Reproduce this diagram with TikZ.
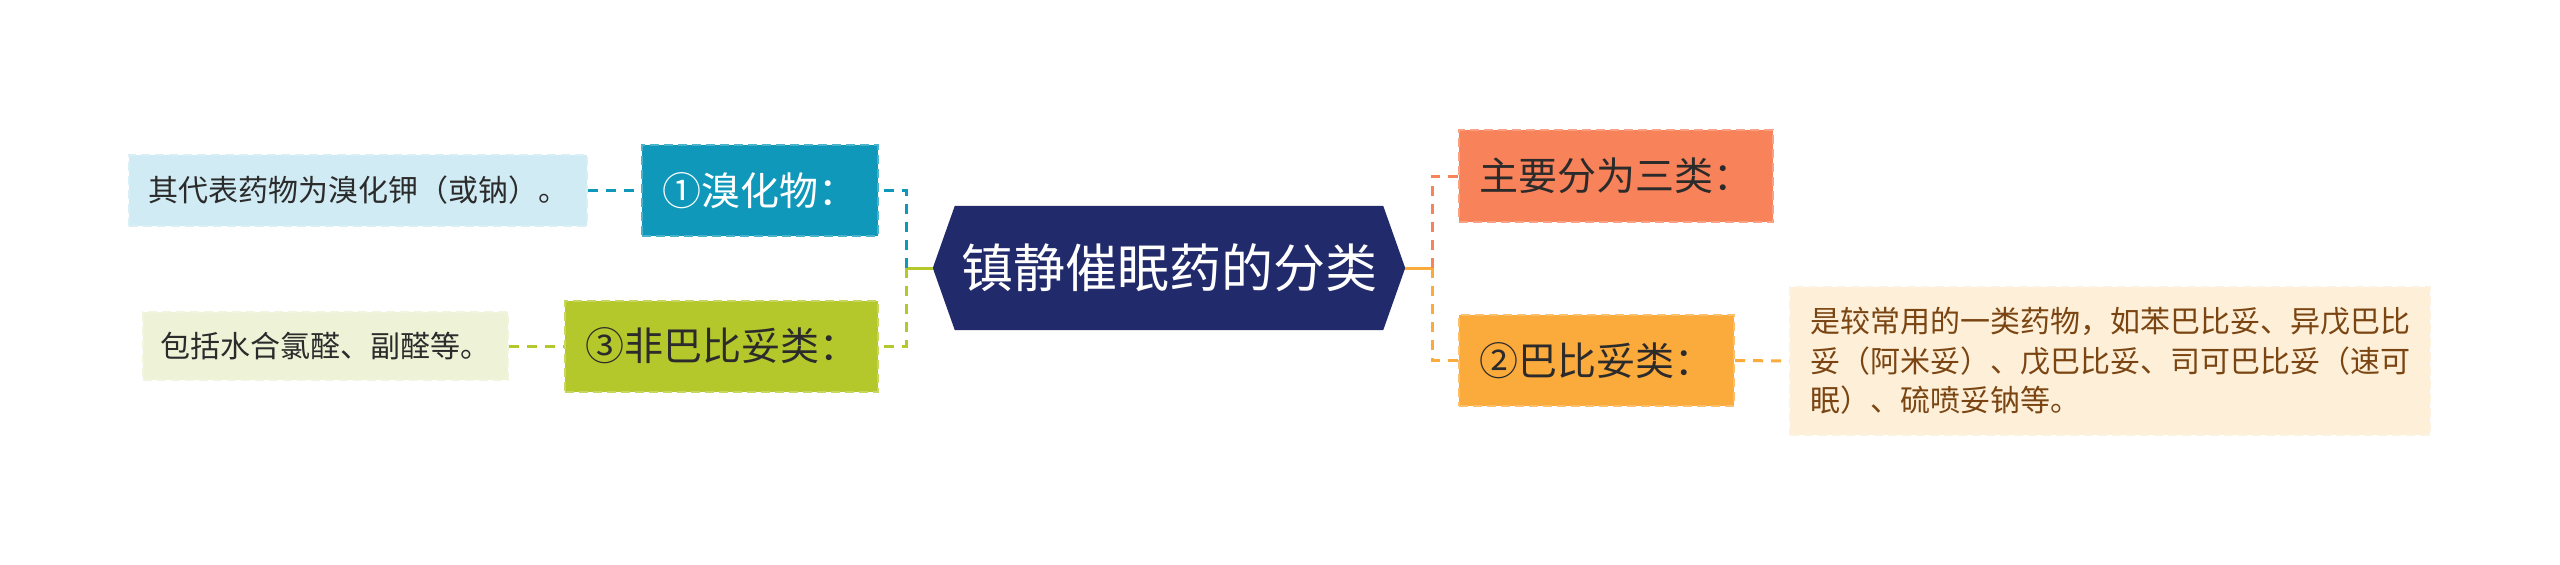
\documentclass[tikz,border=0pt]{standalone}
\usepackage{fontspec}
\setmainfont{Noto Sans CJK SC}
\usetikzlibrary{backgrounds}
\definecolor{navy}{HTML}{212A6A}
\definecolor{tealc}{HTML}{0F98B9}
\definecolor{tealleaf}{HTML}{D0EBF4}
\definecolor{greenc}{HTML}{B5C82B}
\definecolor{greenleaf}{HTML}{EEF3D7}
\definecolor{coralc}{HTML}{F8825A}
\definecolor{yellowc}{HTML}{FBAA3C}
\definecolor{creamleaf}{HTML}{FDEFD8}
\definecolor{brownt}{HTML}{7A4512}
\definecolor{darkt}{HTML}{2B2B2B}
\tikzset{
  boxnode/.style={rectangle, inner xsep=0pt, inner ysep=0pt, align=center,
    font=\fontsize{39pt}{47pt}\selectfont, line width=2pt, dash pattern=on 9pt off 5pt},
  leafnode/.style={rectangle, inner xsep=0pt, inner ysep=0pt, align=left,
    font=\fontsize{30pt}{39.5pt}\selectfont, line width=2pt, dash pattern=on 9pt off 5pt},
  conn/.style={line width=3pt, dash pattern=on 10pt off 8pt},
  stub/.style={line width=3pt}
}
\begin{document}
\begin{tikzpicture}[x=1pt,y=-1pt]
\useasboundingbox (0,0) rectangle (2560,565);
% central title
\node[rectangle, minimum width=472pt, minimum height=124pt, inner sep=0pt,
  text=white, font=\fontsize{52pt}{60pt}\selectfont] (title) at (1169,268) {镇静催眠药的分类};
\begin{scope}[on background layer]
\fill[white] (0,0) rectangle (2560,565);
\fill[navy] (title.west) -- ([xshift=22pt]title.north west) -- ([xshift=-22pt]title.north east)
  -- (title.east) -- ([xshift=-22pt]title.south east) -- ([xshift=22pt]title.south west) -- cycle;
\end{scope}
% main branches
\node[boxnode, fill=tealc, draw=tealc!75!white, text=white, minimum width=236pt, minimum height=91pt] (b1) at (760,190.5) {①溴化物：};
\node[boxnode, fill=greenc, draw=greenc!75!white, text=darkt, minimum width=313pt, minimum height=91pt] (b3) at (721.5,346) {③非巴比妥类：};
\node[boxnode, fill=coralc, draw=coralc!75!white, text=darkt, minimum width=314pt, minimum height=92pt] (b0) at (1616,176) {主要分为三类：};
\node[boxnode, fill=yellowc, draw=yellowc!75!white, text=darkt, minimum width=275pt, minimum height=91pt] (b2) at (1596.5,360.5) {②巴比妥类：};
% leaves
\node[leafnode, fill=tealleaf, draw=tealleaf!80!white, text=darkt, minimum width=458pt, minimum height=71pt, align=center] (l1) at (358,190.5) {其代表药物为溴化钾（或钠）。};
\node[leafnode, fill=greenleaf, draw=greenleaf!80!white, text=darkt, minimum width=365pt, minimum height=68pt, align=center] (l3) at (325.5,346) {包括水合氯醛、副醛等。};
\node[leafnode, fill=creamleaf, draw=creamleaf!80!white, text=brownt, minimum width=640pt, minimum height=148pt, text width=600pt] (l2) at (2110,361)
  {是较常用的一类药物，如苯巴比妥、异戊巴比\\妥（阿米妥）、戊巴比妥、司可巴比妥（速可\\眠）、硫喷妥钠等。};
% junctions
\coordinate (LJ) at (906,268);
\coordinate (RJ) at (1432,268);
\draw[stub, greenc] (title.west) -- (LJ);
\draw[stub, yellowc] (title.east) -- (RJ);
\draw[conn, tealc] (LJ) |- (b1.east);
\draw[conn, greenc] (LJ) |- (b3.east);
\draw[conn, coralc] (RJ) |- (b0.west);
\draw[conn, yellowc] (RJ) |- (b2.west);
\draw[conn, tealc] (l1.east) -- (b1.west);
\draw[conn, greenc] (l3.east) -- (b3.west);
\draw[conn, yellowc] (b2.east) -- (l2.west);
\end{tikzpicture}
\end{document}
